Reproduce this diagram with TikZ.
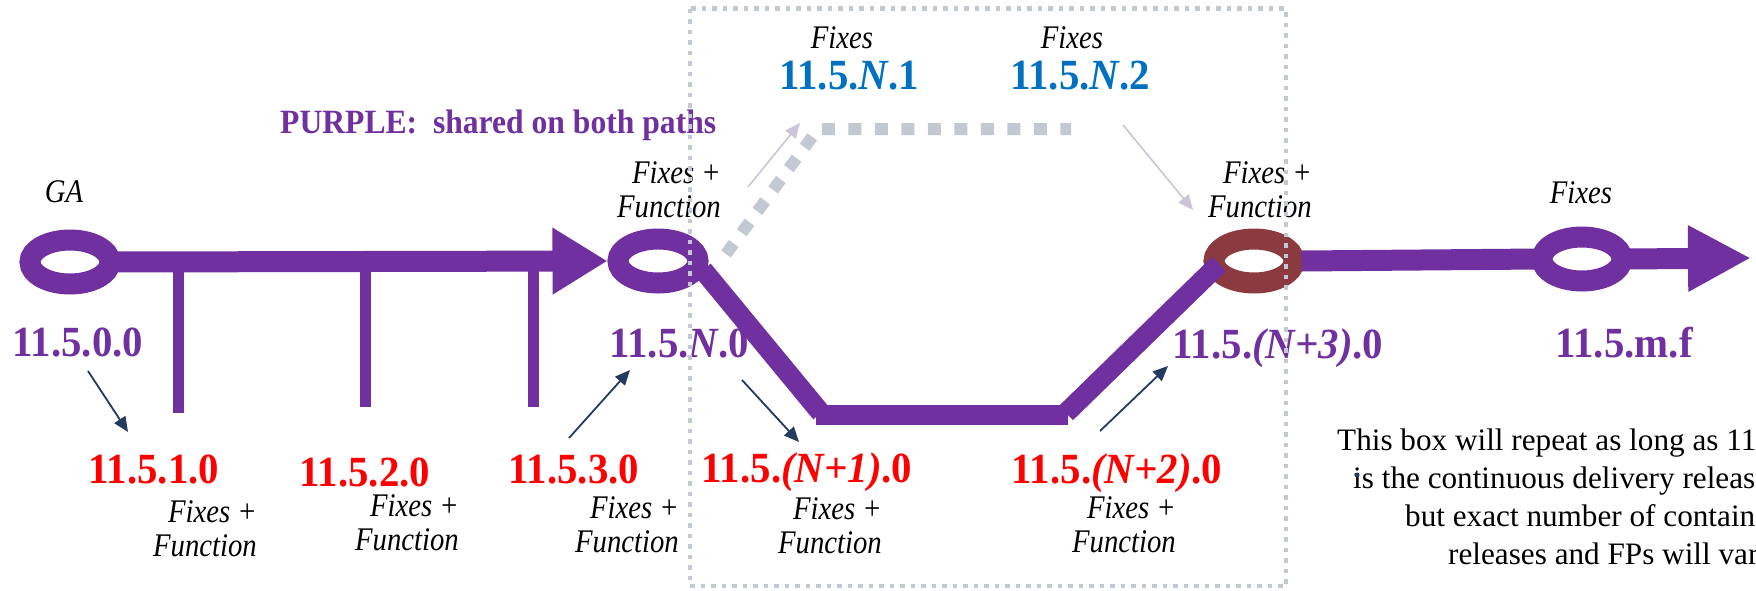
\documentclass[tikz,border=0pt]{standalone}
\usepackage{fontspec}
\setmainfont{Liberation Serif}
\usepackage{graphicx}
\usetikzlibrary{arrows.meta,shapes.geometric}

\definecolor{vpurple}{HTML}{7030A0}
\definecolor{vred}{HTML}{FF0000}
\definecolor{vblue}{HTML}{0070C0}
\definecolor{vbrown}{HTML}{8B3A3F}
\definecolor{vnavy}{HTML}{243A5E}
\definecolor{vlav}{HTML}{CCC4D8}
\definecolor{vgray}{HTML}{C3C9D3}

\newcommand{\vsq}[1]{\scalebox{0.95}[1]{#1}}
\newcommand{\isq}[1]{\scalebox{0.87}[1]{#1}}
\newcommand{\fxfn}{\isq{\begin{tabular}[b]{@{}r@{}}Fixes +\\Function\end{tabular}}}

\tikzset{
  ring/.style={ellipse, draw=vpurple, line width=21pt, minimum width=80pt, minimum height=44pt, inner sep=0pt},
  mainline/.style={draw=vpurple, line width=21pt},
  branch/.style={draw=vpurple, line width=20pt},
  tickline/.style={draw=vpurple, line width=11pt},
  vlab/.style={font=\fontsize{43}{48}\selectfont\bfseries, inner sep=0pt, anchor=base},
  flab/.style={font=\fontsize{33}{34}\selectfont\itshape, inner sep=0pt, anchor=base east},
  fone/.style={font=\fontsize{33}{34}\selectfont\itshape, inner sep=0pt, anchor=base},
  body/.style={font=\fontsize{31.2}{37}\selectfont, inner sep=0pt, anchor=base west},
  navyarrow/.style={draw=vnavy, line width=1.8pt, -{Triangle[length=15pt,width=13pt]}},
  lavarrow/.style={draw=vlav, line width=1.6pt, -{Triangle[length=15pt,width=13pt]}},
  dashpath/.style={draw=vgray, line width=12pt, dash pattern=on 13pt off 13.5pt},
  dotbox/.style={draw=vgray, line width=4.5pt, dash pattern=on 4.5pt off 6pt},
}

\begin{document}
\begin{tikzpicture}[x=1pt, y=-1pt]
\useasboundingbox (0,0) rectangle (1756,590);
\clip (0,0) rectangle (1756,590);
\fill[white] (0,0) rectangle (1756,590);

% rings
\node[ring] (ga) at (70,262) {};
\node[ring] (n0) at (658,261) {};
\node[ring, draw=vbrown] (n3) at (1254,261) {};
\node[ring] (mf) at (1582,259) {};

% main line GA -> N.0
\draw[mainline, -{Triangle[length=55pt,width=63pt]}] ([xshift=-10pt]ga.east) -- (n0.west);

% ticks
\coordinate (t1) at (178,262);
\coordinate (t2) at (365,262);
\coordinate (t3) at (533,262);
\draw[tickline] (t1) -- ++(0,151);
\draw[tickline] (t2) -- ++(0,145);
\draw[tickline] (t3) -- ++(0,145);

% lower branch
\coordinate (d1) at (703,270);
\coordinate (d2) at (821,413);
\coordinate (b1) at (816,415);
\coordinate (b2) at (1068,415);
\coordinate (u1) at (1066,413);
\coordinate (u2) at (1219,264);
\draw[branch] (d1) -- (d2);
\draw[branch] (b1) -- (b2);
\draw[branch] (u1) -- (u2);

% right line
\coordinate (endtip) at (1751,258);
\draw[mainline] ([xshift=-3pt]n3.east) -- ([xshift=8pt]mf.west);
\draw[mainline, -{Triangle[length=63pt,width=62pt]}] ([xshift=-8pt]mf.east) -- (endtip);

% dashed upper path
\coordinate (p1) at (726,254);
\coordinate (p2) at (818,129);
\coordinate (p3) at (1071,129);
\draw[dashpath] (p1) -- (p2) -- (p3);

% labels
\node[vlab, text=vpurple] (l0) at (78,356) {\vsq{11.5.0.0}};
\node[vlab, text=vred] (l1) at (154,483) {\vsq{11.5.1.0}};
\node[vlab, text=vred] (l2) at (365,486) {\vsq{11.5.2.0}};
\node[vlab, text=vred] (l3) at (574,483) {\vsq{11.5.3.0}};
\node[vlab, text=vpurple] (lN0) at (679,357) {\vsq{11.5.\textit{N}.0}};
\node[vlab, text=vred] (lN1) at (807,482) {\vsq{11.5.\textit{(N+1)}.0}};
\node[vlab, text=vred] (lN2) at (1117,483) {\vsq{11.5.\textit{(N+2)}.0}};
\node[vlab, text=vpurple] (lN3) at (1278,358) {\vsq{11.5.\textit{(N+3)}.0}};
\node[vlab, text=vpurple] (lmf) at (1624,357) {\vsq{11.5.m.f}};
\node[vlab, text=vblue] (lb1) at (849,89) {\vsq{11.5.\textit{N}.1}};
\node[vlab, text=vblue] (lb2) at (1080,89) {\vsq{11.5.\textit{N}.2}};

% italic notes
\node[fone] (gatxt) at (64,202) {\isq{GA}};
\node[fone] (fx1) at (842,48) {\isq{Fixes}};
\node[fone] (fx2) at (1072,48) {\isq{Fixes}};
\node[fone] (fx3) at (1581,203) {\isq{Fixes}};
\node[flab] (ff1) at (257,556) {\fxfn};
\node[flab] (ff2) at (459,550) {\fxfn};
\node[flab] (ff3) at (679,552) {\fxfn};
\node[flab] (ffN0) at (721,217) {\fxfn};
\node[flab] (ffN1) at (882,553) {\fxfn};
\node[flab] (ffN2) at (1176,552) {\fxfn};
\node[flab] (ffN3) at (1312,217) {\fxfn};

\node[anchor=base west, inner sep=0pt, font=\fontsize{34}{40}\selectfont\bfseries, text=vpurple] (purp) at (280,133) {\scalebox{0.93}[1]{PURPLE:\ \ shared on both paths}};

% body text
\node[body] (bt1) at (1337,450.5) {This box will repeat as long as 11.5};
\node[body] (bt2) at (1353,488) {is the continuous delivery release,};
\node[body] (bt3) at (1405,526) {but exact number of container};
\node[body] (bt4) at (1448,564) {releases and FPs will vary.};
\fill[vnavy] (1357,475) circle (2.5pt);

% arrows
\coordinate (a1s) at (88,371);  \coordinate (a1e) at (128,432);
\coordinate (a2s) at (569,438); \coordinate (a2e) at (630,370);
\coordinate (a3s) at (742,380); \coordinate (a3e) at (799,442);
\coordinate (a4s) at (1100,431); \coordinate (a4e) at (1168,366);
\coordinate (v1s) at (748,187); \coordinate (v1e) at (800,123);
\coordinate (v2s) at (1123,125); \coordinate (v2e) at (1193,210);
\draw[navyarrow] (a1s) -- (a1e);
\draw[navyarrow] (a2s) -- (a2e);
\draw[navyarrow] (a3s) -- (a3e);
\draw[navyarrow] (a4s) -- (a4e);
\draw[lavarrow] (v1s) -- (v1e);
\draw[lavarrow] (v2s) -- (v2e);

% dotted box on top
\draw[dotbox] (690,8.5) rectangle (1286,586);
\end{tikzpicture}
\end{document}
